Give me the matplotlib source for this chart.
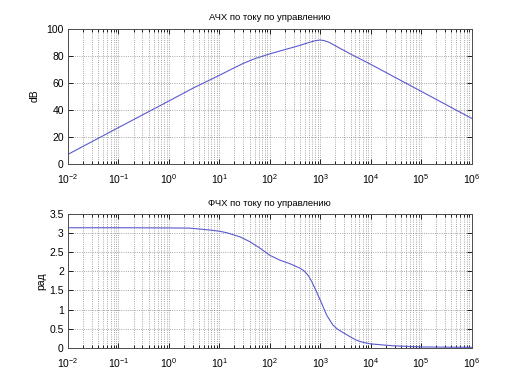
import math
import matplotlib
matplotlib.use("Agg")
import matplotlib.pyplot as plt
from matplotlib.ticker import LogLocator, FixedLocator, NullFormatter, FuncFormatter

plt.rcParams['font.family'] = ['Liberation Sans', 'DejaVu Sans']
plt.rcParams['mathtext.fontset'] = 'custom'
plt.rcParams['mathtext.rm'] = 'Liberation Sans'
plt.rcParams['axes.unicode_minus'] = False

# ---- data ----
mag_freq = [0.01, 0.1, 1, 3, 10, 20, 30, 50, 100, 200, 300, 500, 700,
            800, 1000, 1200, 1500, 2000, 4000, 10000, 100000, 1000000]
mag_db = [6.8, 26.6, 46.3, 55.8, 65.3, 71.0, 74.2, 77.6, 81.2, 84.4, 86.2,
          88.7, 90.4, 91.0, 91.5, 91.0, 89.8, 87.2, 81.1, 73.5, 53.5, 33.5]

ph_freq = [0.01, 0.1, 1, 2.6, 6.6, 10, 14, 26, 41, 65, 100, 160, 250, 400,
           468, 540, 600, 680, 850, 1070, 1350, 1585, 1800, 2140, 2500,
           4000, 5000, 6200, 10000, 28000, 100000, 1000000]
ph_rad = [3.14, 3.14, 3.135, 3.13, 3.08, 3.05, 3.01, 2.90, 2.77, 2.60,
          2.42, 2.29, 2.20, 2.08, 2.02, 1.94, 1.86, 1.73, 1.46, 1.16,
          0.85, 0.70, 0.59, 0.50, 0.44, 0.28, 0.21, 0.16, 0.10, 0.05,
          0.02, 0.01]

title_mag = "АЧХ по току по управлению"
title_ph = "ФЧХ по току по управлению"
ylabel_mag = "dB"
ylabel_ph = "рад"
mag_yticks = [0, 20, 40, 60, 80, 100]
ph_yticks = [0, 0.5, 1, 1.5, 2, 2.5, 3, 3.5]

fig = plt.figure(figsize=(5.21, 3.91), dpi=100)
ax1 = fig.add_axes([0.1305, 0.5818, 0.7745, 0.3453])
ax2 = fig.add_axes([0.1305, 0.1107, 0.7745, 0.3420])

line_color = '#5a5ad0'

def style(ax, yt, ylim):
    ax.set_xscale('log')
    ax.set_xlim(1e-2, 1e6)
    ax.set_ylim(*ylim)
    ax.xaxis.set_major_locator(FixedLocator([10.0**k for k in range(-2, 7)]))
    ax.xaxis.set_minor_locator(LogLocator(base=10, subs=range(2, 10), numticks=100))
    ax.xaxis.set_minor_formatter(NullFormatter())
    ax.xaxis.set_major_formatter(FuncFormatter(lambda v, p: r'$10^{%d}$' % round(math.log10(v))))
    ax.set_yticks(yt)
    ax.yaxis.set_major_formatter(FuncFormatter(lambda v, p: ('%g' % v)))
    ax.grid(True, which='major', axis='both', linestyle=':', color='0.55', linewidth=0.6)
    ax.grid(True, which='minor', axis='x', linestyle=':', color='0.55', linewidth=0.6)
    ax.tick_params(which='both', direction='in', top=True, right=True,
                   labelsize=7.5, colors='black', width=0.6)
    ax.tick_params(which='major', length=3.5)
    ax.tick_params(which='minor', length=2)
    ax.tick_params(axis='x', which='major', pad=6)
    ax.tick_params(axis='y', which='major', pad=3)
    for s in ax.spines.values():
        s.set_linewidth(0.7)
        s.set_color('0.3')

ax1.plot(mag_freq, mag_db, color=line_color, linewidth=0.8)
style(ax1, mag_yticks, (0, 100))
ax1.set_title(title_mag, fontsize=6.8, pad=6)
ax1.set_ylabel(ylabel_mag, fontsize=7.5, labelpad=5)

ax2.plot(ph_freq, ph_rad, color=line_color, linewidth=0.8)
style(ax2, ph_yticks, (0, 3.5))
ax2.set_title(title_ph, fontsize=6.8, pad=6)
ax2.set_ylabel(ylabel_ph, fontsize=7.5, labelpad=2)

fig.savefig('out.png', dpi=100)
